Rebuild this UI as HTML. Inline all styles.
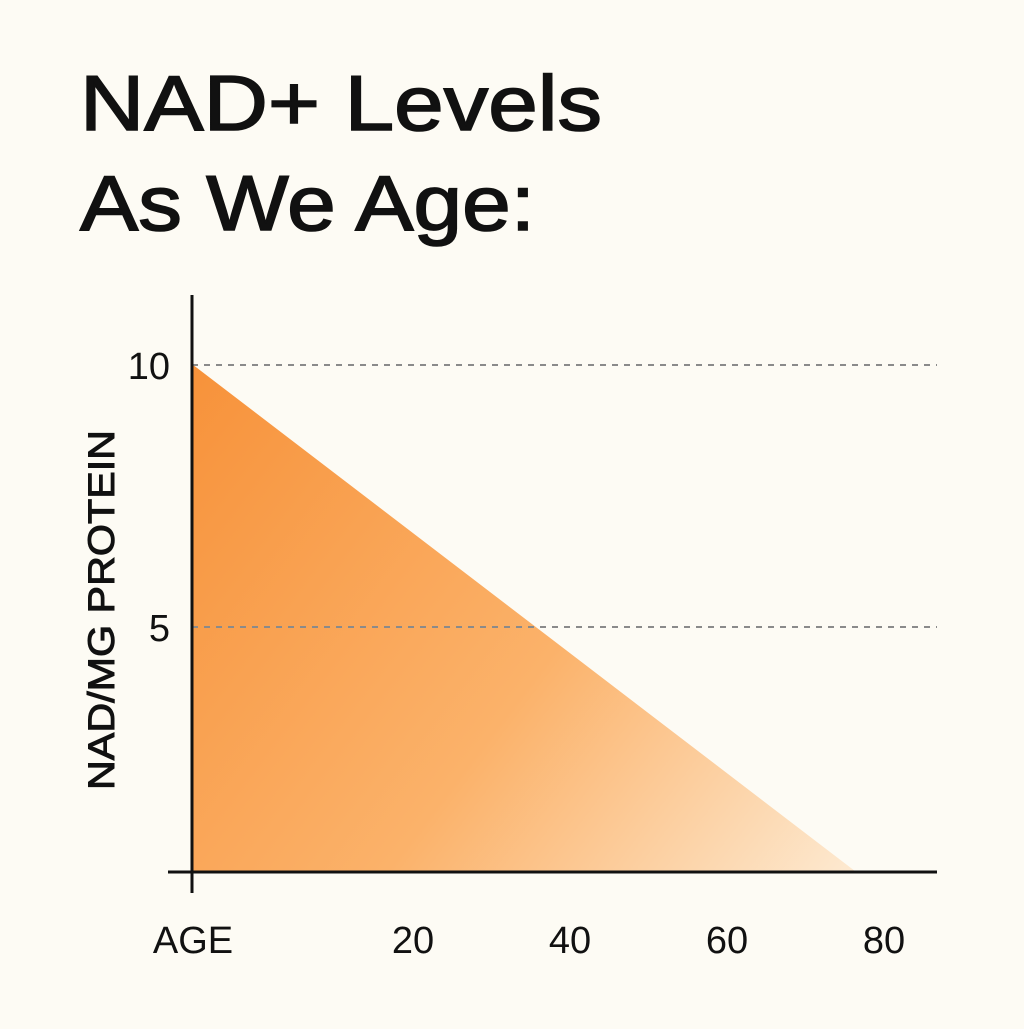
<!DOCTYPE html>
<html><head><meta charset="utf-8"><style>
html,body{margin:0;padding:0;background:#FDFBF4;}
body{width:1024px;height:1024px;overflow:hidden;font-family:"Liberation Sans",sans-serif;}
</style></head><body>
<svg width="1024" height="1024" viewBox="0 0 1024 1024">
<defs>
<linearGradient id="g" x1="192" y1="365" x2="860" y2="872" gradientUnits="userSpaceOnUse">
<stop offset="0" stop-color="#F7923A"/>
<stop offset="0.55" stop-color="#FBB26A"/>
<stop offset="1" stop-color="#FDEAD2"/>
</linearGradient>
</defs>
<rect width="1024" height="1024" fill="#FDFBF4"/>
<text x="80" y="130" font-size="78" fill="#111" stroke="#111" stroke-width="1.6" textLength="522" lengthAdjust="spacingAndGlyphs">NAD+ Levels</text>
<text x="80" y="230" font-size="78" fill="#111" stroke="#111" stroke-width="1.6" textLength="455" lengthAdjust="spacingAndGlyphs">As We Age:</text>
<g id="plot"></g>
</svg>
<script>
const ages = [-8, 76.5];
const levels = [10, 0.32];
const yTicks = [10, 5];
const yTickLabels = ["10", "5"];
const xTicks = [20, 40, 60, 80];
const xTickLabels = ["20", "40", "60", "80"];
const NS = "http://www.w3.org/2000/svg";
const X = a => 256 + a * 7.85;
const Y = v => 889 - v * 52.4;
const axisY = 872, axisX = 192;
const g = document.getElementById('plot');
function mk(t, attrs, txt){const e=document.createElementNS(NS,t);for(const k in attrs)e.setAttribute(k,attrs[k]);if(txt!==undefined)e.textContent=txt;g.appendChild(e);return e;}
let d='M'+X(ages[0])+','+axisY;
ages.forEach((a,i)=>{d+=' L'+X(a)+','+Y(levels[i]);});
d+=' L'+X(ages[ages.length-1])+','+axisY+' Z';
const area=mk('path',{d:d,fill:'url(#g)'});


yTicks.forEach((v,i)=>{
  const l=mk('line',{x1:axisX,x2:937,y1:Y(v),y2:Y(v),stroke:'#8a8a8a','stroke-width':2,'stroke-dasharray':'6 6'});
  
  
  const t=mk('text',{x:170,y:Y(v)+14,'text-anchor':'end','font-size':38,fill:'#111'},yTickLabels[i]);
  
  
});
const ya=mk('line',{x1:axisX,x2:axisX,y1:295,y2:893,stroke:'#111','stroke-width':3});


const xa=mk('line',{x1:168,x2:937,y1:axisY,y2:axisY,stroke:'#111','stroke-width':3});


xTicks.forEach((a,i)=>{
  const t=mk('text',{x:X(a),y:953,'text-anchor':'middle','font-size':38,fill:'#111'},xTickLabels[i]);
  
  
});
const xt=mk('text',{x:193,y:953,'text-anchor':'middle','font-size':38,fill:'#111'},'AGE');


const yt=mk('text',{x:0,y:0,'text-anchor':'middle','font-size':37,fill:'#111',stroke:'#111','stroke-width':1,textLength:360,lengthAdjust:'spacingAndGlyphs',transform:'translate(114,610) rotate(-90)'},'NAD/MG PROTEIN');


</script>
</body></html>
